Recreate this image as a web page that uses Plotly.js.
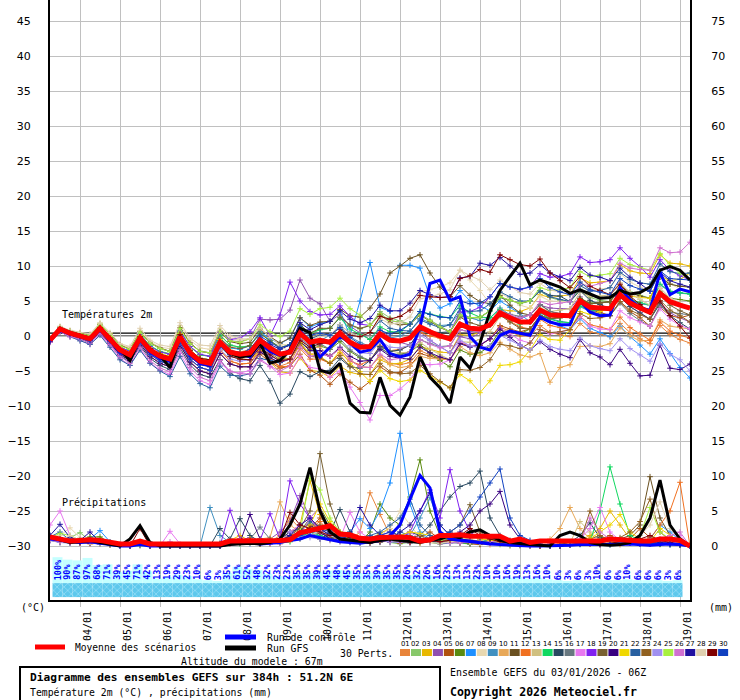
<!DOCTYPE html>
<html><head><meta charset="utf-8">
<script src="https://cdn.plot.ly/plotly-3.0.1.min.js"></script>
<style>html,body{margin:0;padding:0;background:#fff}#chart{width:740px;height:700px}</style>
</head><body><div id="chart"></div>
<script>
// ---------- DATA ----------
const hours = [0,6,12,18,24,30,36,42,48,54,60,66,72,78,84,90,96,102,108,114,120,126,132,138,144,150,156,162,168,174,180,186,192,198,204,210,216,222,228,234,240,246,252,258,264,270,276,282,288,294,300,306,312,318,324,330,336,342,348,354,360,366,372,378,384];
const dayTicks = [18,42,66,90,114,138,162,186,210,234,258,282,306,330,354,378];
const dayLabels = ['04/01','05/01','06/01','07/01','08/01','09/01','10/01','11/01','12/01','13/01','14/01','15/01','16/01','17/01','18/01','19/01'];
const tempTicks = [-30,-25,-20,-15,-10,-5,0,5,10,15,20,25,30,35,40,45];
const precipTicks = [0,5,10,15,20,25,30,35,40,45,50,55,60,65,70,75];
const memberLabels = ['01','02','03','04','05','06','07','08','09','10','11','12','13','14','15','16','17','18','19','20','21','22','23','24','25','26','27','28','29','30'];
const memberColors = ['#e8843a','#88c86a','#e8b800','#9050b0','#b0520f','#5a8a10','#1e90ff','#e8d8b0','#4090c0','#e8a858','#6a5020','#f07020','#d0c080','#10d860','#284860','#687880','#e878f0','#8020f0','#786030','#380080','#f0d800','#2860a0','#906020','#a090f0','#a8f040','#d070d0','#2010a0','#e0d0b0','#800000','#1040c0'];

// probability of precipitation per 6h step (%)
const precipProb = [100,90,87,97,68,71,39,45,71,42,13,19,29,23,10,6,3,35,61,52,48,32,23,23,35,35,39,45,48,45,35,35,39,35,35,26,32,26,16,23,13,13,23,10,10,16,19,13,16,10,6,3,6,3,10,6,6,10,6,6,6,3,6];

// Temperature 2m (°C)
const tMean = [-0.6,1.0,0.4,0.0,-0.4,1.1,-0.4,-2.0,-2.7,-0.3,-2.0,-2.9,-3.3,-0.1,-2.4,-3.6,-3.9,-0.9,-2.3,-2.6,-2.4,-0.6,-1.7,-2.6,-2.3,0.4,-0.9,-0.6,-0.9,0.4,-0.9,-1.6,-1.5,0.3,-0.6,-0.7,-0.3,1.3,0.6,0.0,-0.4,1.7,1.1,1.0,1.6,3.3,2.6,2.0,2.0,3.7,3.0,2.9,2.9,5.0,4.1,4.0,3.9,5.9,4.7,4.0,3.4,6.1,4.9,4.4,4.0];
const tControl = [-0.7,0.8,0.3,-0.1,-0.5,0.9,-0.6,-2.3,-3.0,-0.5,-2.3,-3.2,-3.6,-0.3,-2.7,-3.9,-4.2,-1.0,-2.2,-2.5,-3.0,-1.0,-2.2,-2.8,-2.0,0.8,-1.0,-3.0,-1.6,0.0,-1.0,-2.3,-2.0,-0.5,-2.5,-3.0,-2.6,1.3,7.5,8.0,5.1,5.6,-0.1,-1.6,-2.0,0.1,0.7,0.4,0.1,2.7,2.0,1.6,1.6,5.0,3.4,2.9,3.0,6.9,5.2,4.0,3.7,9.1,5.9,6.7,6.3];
const tGFS = [-0.5,1.1,0.5,0.1,-0.3,1.2,-0.3,-1.9,-3.5,-0.2,-1.9,-2.8,-4.5,0.0,-2.3,-3.5,-3.8,-0.8,-2.5,-3.0,-2.8,-1.0,-3.9,-3.5,-2.0,1.1,0.5,-4.9,-5.3,-3.9,-9.6,-10.9,-11.0,-5.9,-9.9,-11.3,-8.7,-3.0,-5.9,-7.4,-9.6,-3.0,-4.6,-1.0,3.5,6.5,8.5,10.4,7.3,8.0,7.5,7.0,6.1,6.6,6.0,5.4,5.5,6.5,6.0,6.2,7.0,9.4,9.9,9.4,8.0];
const t01 = [-0.8,0.8,0.1,-0.3,-0.7,0.7,-0.8,-2.5,-3.2,-0.9,-2.6,-3.6,-4.1,-1.0,-3.3,-4.5,-4.9,-2.0,-3.6,-4.0,-3.9,-1.8,-3.4,-4.3,-3.8,-1.2,-2.6,-2.5,-2.9,-1.8,-3.4,-4.4,-4.5,-2.8,-3.9,-4.1,-3.8,-2.1,-2.7,-3.1,-3.4,-1.0,-1.4,-1.3,-0.4,1.3,0.6,0.0,0.0,1.5,0.5,0.2,-0.1,1.8,0.6,0.3,-0.1,1.8,0.5,-0.4,-1.1,1.5,0.2,-0.5,-1.0];
const t02 = [-0.5,1.1,0.6,0.2,-0.1,1.5,0.0,-1.6,-2.2,0.3,-1.4,-2.2,-2.5,0.8,-1.5,-2.7,-2.9,0.2,-1.3,-1.6,-1.4,0.6,-0.7,-1.8,-1.3,1.6,0.3,0.9,1.1,2.6,1.5,1.0,1.5,3.5,2.6,2.2,1.7,3.1,2.3,1.5,0.6,2.9,2.5,2.6,3.6,5.6,5.1,4.6,5.0,6.4,5.5,5.1,4.9,6.7,5.5,5.1,4.9,7.2,6.3,5.8,5.4,8.4,7.4,7.1,7.0];
const t03 = [-0.6,1.1,0.5,0.1,-0.2,1.4,-0.1,-1.8,-2.4,0.0,-1.7,-2.6,-2.9,0.4,-2.0,-3.2,-3.4,-0.8,-2.6,-3.3,-3.4,-2.1,-3.7,-5.1,-5.3,-3.1,-4.9,-5.1,-5.9,-4.3,-5.2,-5.5,-5.5,-3.4,-4.0,-3.9,-3.3,-1.5,-1.9,-2.3,-2.4,0.2,0.1,0.5,1.6,3.8,3.6,3.5,4.0,5.9,5.5,5.7,5.9,8.3,7.6,7.7,7.9,10.2,9.3,9.0,8.9,11.6,10.4,10.3,10.0];
const t04 = [-0.4,1.3,0.7,0.3,0.1,1.7,0.3,-1.3,-1.9,0.6,-1.0,-1.8,-2.2,1.1,-1.0,-2.2,-2.4,0.7,-0.7,-0.8,-0.4,2.4,2.3,2.4,3.7,8.0,5.4,4.6,2.1,3.1,1.4,0.4,-0.5,1.0,-0.2,-0.9,-1.3,0.6,-0.6,-1.5,-2.4,-0.1,-0.4,0.5,1.6,3.6,2.8,2.5,3.0,4.4,4.0,3.9,3.9,5.6,4.3,4.0,3.9,5.6,4.2,3.3,2.4,4.8,3.3,2.6,2.0];
const t05 = [-0.8,0.8,0.1,-0.3,-0.9,0.5,-1.0,-2.6,-3.5,-1.1,-2.9,-3.9,-4.4,-1.3,-3.7,-5.0,-5.4,-2.5,-4.0,-4.4,-4.4,-2.6,-3.7,-4.6,-4.3,-2.6,-4.9,-5.6,-6.9,-5.4,-6.6,-7.6,-6.5,-4.4,-5.3,-5.2,-4.3,-2.5,-2.9,-3.3,-3.4,-1.0,-1.4,-1.3,-0.4,1.5,1.0,0.6,1.0,2.9,2.4,2.6,2.9,4.8,3.7,3.4,2.9,4.9,3.5,2.6,1.4,4.1,2.9,2.6,3.0];
const t06 = [-0.5,1.0,0.3,0.1,-0.3,1.3,-0.3,-2.1,-2.7,-0.2,-2.1,-2.8,-3.4,0.1,-2.4,-3.7,-3.8,-0.8,-2.5,-2.7,-2.4,-0.9,-2.1,-3.2,-3.3,-0.8,-1.9,-1.4,-1.9,-0.8,-2.2,-3.1,-3.5,-1.7,-2.6,-2.6,-2.3,-1.2,-2.4,-3.5,-4.4,-2.0,-2.6,-2.4,-1.4,0.8,0.6,0.3,1.0,2.9,2.5,2.7,2.9,5.4,4.7,4.8,4.9,6.6,5.4,4.4,3.4,6.4,5.4,5.2,5.0];
const t07 = [-0.5,1.1,0.5,0.1,-0.3,1.2,-0.3,-1.9,-2.5,-0.1,-1.8,-2.6,-3.0,0.2,-2.0,-3.2,-3.4,-0.3,-1.7,-1.9,-1.4,0.6,-0.4,-1.1,-0.3,2.6,1.3,1.8,2.1,3.6,0.0,5.0,10.5,4.1,3.5,10.1,10.1,9.7,5.6,4.0,4.6,6.5,5.0,4.3,3.6,5.0,4.1,3.2,2.0,3.2,2.0,1.4,0.9,2.5,1.1,0.5,-0.1,1.4,-0.1,-1.3,-2.6,-0.4,-2.5,-4.5,-6.0];
const t08 = [-0.3,1.3,0.8,0.5,0.2,1.8,0.4,-1.2,-1.7,0.8,-0.8,-1.6,-1.8,1.5,-0.6,-1.7,-1.9,1.1,-0.3,-0.6,-0.4,1.2,-0.1,-1.2,-1.3,1.4,0.1,0.4,0.1,1.6,0.4,0.1,0.5,2.8,2.4,2.8,3.7,6.3,6.6,7.0,7.6,9.4,8.0,6.5,4.6,6.2,5.3,4.4,4.0,5.7,5.0,4.9,4.9,7.3,6.5,6.7,6.9,8.9,7.7,7.0,6.4,8.9,7.5,6.7,6.0];
const t09 = [-0.6,0.9,0.3,-0.1,-0.6,0.8,-0.7,-2.3,-3.0,-0.5,-2.3,-3.3,-3.7,-0.6,-2.8,-4.0,-4.4,-1.5,-2.9,-3.3,-3.4,-1.6,-2.7,-3.6,-3.3,-0.3,-1.4,-0.6,0.1,1.4,-0.1,-0.9,-1.5,0.5,-0.3,0.0,0.7,2.5,1.9,1.5,1.6,3.4,2.6,2.2,2.6,4.0,3.0,2.2,2.0,3.4,2.5,2.1,1.9,4.2,3.5,3.7,3.9,6.1,5.1,4.6,4.4,7.3,6.3,6.1,6.0];
const t10 = [-0.6,1.0,0.4,0.0,-0.4,1.1,-0.4,-2.0,-2.7,-0.3,-2.0,-2.9,-3.3,-0.1,-2.4,-3.6,-3.9,-0.8,-2.1,-2.3,-1.9,-0.2,-1.6,-2.9,-3.3,-0.2,-1.7,-1.6,-2.9,-1.8,-3.4,-4.4,-4.5,-2.9,-4.1,-4.5,-4.3,-2.9,-3.2,-3.3,-3.4,-1.5,-2.4,-2.8,-2.4,-0.9,-1.9,-2.7,-3.0,-2.5,-6.6,-4.5,-4.1,-1.5,-1.4,-1.5,-1.1,1.2,0.0,-0.7,-0.6,2.3,1.4,1.2,1.0];
const t11 = [-0.4,1.2,0.7,0.4,0.1,1.6,0.3,-1.3,-1.9,0.6,-1.0,-1.7,-2.2,1.2,-1.0,-2.2,-2.4,0.6,-0.8,-1.1,-0.9,1.0,-0.1,-1.0,-0.3,2.6,1.5,2.0,2.1,3.8,2.9,2.7,4.0,6.0,9.0,10.0,11.1,11.6,9.0,7.0,5.6,7.2,5.8,4.9,4.6,5.8,4.4,3.3,3.0,4.5,3.5,3.2,2.9,5.3,4.6,4.7,4.9,7.2,6.2,5.7,5.4,8.4,7.4,7.1,7.0];
const t12 = [-0.7,0.9,0.3,-0.1,-0.7,0.8,-0.8,-2.4,-3.2,-0.9,-2.6,-3.6,-4.1,-1.0,-3.3,-4.5,-4.9,-2.0,-3.6,-4.0,-3.9,-2.2,-3.4,-4.4,-4.3,-1.8,-3.3,-3.3,-3.9,-2.4,-3.6,-4.1,-3.5,-1.4,-2.1,-1.9,-1.3,0.5,0.0,-0.3,-0.4,1.7,1.1,1.0,1.6,3.1,2.1,1.3,1.0,2.4,1.5,1.2,0.9,2.8,1.6,1.3,0.9,2.7,1.2,0.3,-0.6,2.0,0.7,0.1,-0.3];
const t13 = [-0.6,1.0,0.5,0.1,-0.3,1.2,-0.2,-1.8,-2.5,0.0,-1.7,-2.6,-3.0,0.3,-2.0,-3.2,-3.4,-0.8,-2.6,-3.2,-3.4,-1.4,-2.2,-2.9,-2.3,0.6,-0.4,0.2,0.1,1.2,-0.4,-1.6,-2.5,-0.9,-2.1,-2.4,-2.3,-0.9,-1.9,-2.7,-3.4,-0.8,-0.9,-0.5,0.6,2.8,2.3,1.9,2.0,4.0,3.5,3.7,3.9,6.3,5.6,5.7,5.9,7.6,6.2,5.2,4.4,6.8,5.4,4.6,4.0];
const t14 = [-0.5,1.1,0.6,0.2,-0.1,1.5,0.0,-1.6,-2.2,0.3,-1.4,-2.2,-2.6,0.7,-1.5,-2.7,-2.9,0.1,-1.3,-1.6,-1.4,0.4,-0.7,-1.6,-1.3,1.6,0.4,0.9,1.1,2.6,1.0,0.2,-0.5,1.3,0.6,0.6,1.7,3.5,3.1,2.8,2.6,4.4,3.3,2.7,2.6,3.8,2.6,1.7,2.0,3.4,2.4,2.0,1.9,4.3,3.6,3.7,3.9,6.2,5.2,4.8,4.4,7.4,6.4,6.2,6.0];
const t15 = [-0.9,0.7,0.0,-0.4,-1.0,0.4,-1.2,-2.9,-3.7,-1.4,-3.2,-4.2,-4.8,-1.7,-4.1,-5.5,-5.9,-3.4,-5.3,-6.1,-6.4,-4.2,-6.4,-9.6,-8.3,-5.1,-5.8,-5.1,-4.9,-3.2,-4.4,-4.6,-3.5,-1.5,-2.2,-2.0,-1.3,0.8,0.6,0.5,0.6,3.0,2.6,2.7,3.6,5.5,5.1,4.7,5.0,6.5,5.8,5.7,4.9,6.5,5.1,4.5,3.9,5.6,4.2,3.3,2.4,4.6,2.9,1.9,1.0];
const t16 = [-0.6,1.0,0.4,0.0,-0.4,1.1,-0.4,-2.0,-2.7,-0.3,-2.0,-2.9,-3.3,-0.1,-2.4,-3.6,-3.9,-0.9,-2.3,-2.6,-2.4,-0.6,-1.7,-2.6,-2.3,0.4,-1.1,-1.1,-1.9,-0.4,-2.0,-2.9,-3.5,-1.7,-2.6,-2.7,-2.3,-0.5,-1.1,-1.5,-1.4,0.9,0.6,0.8,1.6,3.6,3.1,2.8,3.0,4.5,3.5,3.2,2.9,4.8,3.6,3.2,2.9,4.7,3.2,2.2,1.4,4.3,3.4,3.2,3.0];
const t17 = [-0.9,0.6,-0.1,-0.6,-1.2,0.2,-1.4,-3.2,-4.2,-1.9,-3.8,-4.9,-5.5,-2.5,-5.0,-6.4,-6.9,-3.8,-5.1,-5.3,-4.9,-3.2,-4.4,-5.5,-5.3,-2.9,-4.5,-4.7,-5.9,-5.0,-7.3,-9.5,-12.0,-8.5,-8.5,-7.6,-6.3,-4.0,-4.1,-4.0,-3.4,-0.8,-1.4,-1.2,-0.4,1.1,0.3,-0.6,-1.0,0.9,0.3,0.6,0.9,2.8,1.4,1.0,0.9,3.6,2.6,2.0,1.4,3.9,2.4,1.5,1.0];
const t18 = [-0.4,1.2,0.6,0.2,-0.1,1.4,-0.1,-1.6,-2.2,0.2,-1.5,-2.3,-2.6,0.7,-1.5,-2.6,-2.9,0.6,-0.5,-0.3,0.6,2.6,0.0,3.0,7.7,5.0,3.5,3.0,3.1,4.3,2.8,1.7,1.5,3.2,2.2,2.0,1.7,3.1,2.2,1.3,0.6,3.4,3.5,4.1,5.6,7.5,7.0,6.6,7.0,8.9,8.4,8.5,8.9,11.3,10.5,10.6,10.9,12.6,11.1,9.9,8.4,10.9,9.4,8.6,8.0];
const t19 = [-0.5,1.1,0.5,0.1,-0.3,1.2,-0.3,-1.8,-2.5,-0.1,-1.8,-2.6,-3.0,0.3,-2.0,-3.2,-3.4,-0.3,-1.6,-1.8,-1.4,0.4,-0.7,-1.6,-1.3,1.6,0.4,1.1,1.1,2.7,1.6,1.1,1.5,3.1,1.9,1.6,1.7,3.0,2.1,1.2,0.6,2.7,1.9,1.5,1.6,3.0,2.0,1.1,1.0,2.9,2.5,2.6,2.9,5.3,4.6,4.7,4.9,6.7,5.2,4.3,3.4,5.8,4.4,3.6,3.0];
const t20 = [-0.8,0.8,0.1,-0.3,-0.9,0.5,-1.0,-2.7,-3.5,-1.2,-2.9,-3.9,-4.4,-1.3,-3.7,-5.0,-5.4,-2.5,-4.0,-4.4,-4.4,-2.3,-3.1,-3.8,-3.3,-0.8,-2.1,-2.1,-2.9,-1.6,-2.9,-3.6,-3.5,-1.9,-2.9,-3.2,-3.3,-1.6,-2.4,-3.0,-3.4,-1.1,-1.6,-1.3,-0.4,1.0,-0.2,-1.3,-2.0,-0.8,-1.9,-2.6,-3.1,-0.5,-2.4,-3.0,-4.1,-1.9,-3.9,-5.7,-5.6,-1.3,-4.6,-4.8,-4.0];
const t21 = [-0.5,1.1,0.6,0.2,-0.2,1.3,-0.1,-1.7,-2.4,0.0,-1.7,-2.5,-2.9,0.3,-2.0,-3.2,-3.4,-0.5,-2.0,-2.5,-2.4,-0.8,-2.1,-3.2,-3.3,-0.9,-2.6,-2.9,-3.9,-2.1,-3.9,-5.1,-6.5,-4.9,-6.1,-6.5,-6.3,-4.9,-5.8,-6.6,-7.4,-5.5,-6.4,-8.1,-6.4,-4.2,-4.1,-3.7,-2.0,0.2,-0.5,-0.6,0.9,3.5,3.1,3.5,3.9,6.4,5.7,5.5,5.4,8.6,7.9,8.1,9.0];
const t22 = [-0.8,0.6,-0.1,-0.7,-1.2,0.1,-1.6,-3.4,-4.2,-2.0,-3.9,-5.0,-5.8,-2.9,-5.4,-6.8,-7.4,-4.3,-5.6,-5.7,-5.4,-3.2,-3.5,-3.8,-2.3,0.7,-0.4,0.1,0.1,1.6,0.4,-0.1,0.5,2.2,1.1,0.8,0.7,2.3,1.7,1.2,1.6,3.9,3.5,3.6,4.6,6.3,5.6,5.0,5.0,6.5,5.6,5.2,4.9,7.2,6.4,6.5,6.9,9.1,8.1,7.6,7.4,10.3,9.2,8.9,9.0];
const t23 = [-0.6,1.0,0.4,0.0,-0.4,1.1,-0.4,-2.0,-2.7,-0.3,-2.0,-2.9,-3.3,-0.1,-2.4,-3.6,-3.9,-1.0,-2.5,-2.9,-2.9,-1.2,-2.4,-3.4,-3.3,-1.1,-2.9,-3.1,-3.9,-2.8,-4.3,-5.4,-5.5,-3.9,-5.1,-5.4,-5.3,-4.2,-5.4,-6.5,-7.4,-4.8,-4.9,-4.5,-3.4,-1.2,-1.4,-1.8,-1.0,0.9,0.5,0.6,0.9,3.2,2.5,2.6,2.9,4.9,3.7,3.0,2.4,5.1,3.7,2.9,2.0];
const t24 = [-0.7,0.9,0.3,-0.2,-0.7,0.8,-0.8,-2.4,-3.2,-0.9,-2.6,-3.6,-4.1,-1.0,-3.3,-4.5,-4.9,-1.9,-3.3,-3.6,-3.4,-1.6,-2.7,-3.6,-3.3,-0.4,-1.6,-1.1,-0.9,0.2,-1.4,-2.4,-2.5,-0.7,-1.6,-1.7,-1.3,0.1,-0.7,-1.5,-2.4,-0.6,-1.4,-1.7,-1.4,0.1,-0.6,-1.3,-2.0,-0.6,-1.5,-1.9,-2.1,-0.3,-1.4,-1.8,-2.1,-0.4,-1.8,-2.7,-3.6,-1.1,-2.6,-3.4,-5.0];
const t25 = [-0.4,1.3,0.7,0.3,0.1,1.7,0.3,-1.4,-1.9,0.6,-1.0,-1.8,-2.2,1.1,-1.1,-2.2,-2.4,0.7,-0.7,-0.9,-0.4,1.6,0.6,-0.1,0.7,3.9,3.1,3.9,4.1,5.4,3.9,3.0,1.5,3.2,2.2,2.0,1.7,3.1,2.2,1.3,0.6,3.0,2.6,2.7,3.6,5.6,5.1,4.7,5.0,6.9,6.5,6.6,6.9,9.2,8.5,8.7,8.9,11.1,10.2,9.8,9.4,11.8,10.1,9.0,8.0];
const t26 = [-0.9,0.6,-0.1,-0.4,-1.0,0.4,-1.2,-2.9,-3.9,-1.6,-3.5,-4.6,-5.1,-2.0,-4.5,-5.9,-6.4,-3.5,-5.0,-5.4,-5.4,-3.5,-4.3,-5.0,-4.3,-1.6,-2.9,-2.6,-2.9,-1.8,-3.4,-4.4,-4.5,-2.6,-3.4,-3.2,-2.3,-0.5,-1.2,-1.7,-1.4,0.9,0.5,0.7,1.6,3.5,3.0,2.6,3.0,4.9,4.5,4.7,4.9,7.5,7.1,7.5,7.9,10.4,9.7,9.5,9.4,12.6,11.9,12.0,13.4];
const t27 = [-0.7,0.9,0.3,-0.1,-0.6,0.9,-0.6,-2.3,-3.0,-0.6,-2.3,-3.3,-3.7,-0.5,-2.9,-4.1,-4.4,-1.3,-2.6,-2.8,-2.4,-0.3,-1.2,-1.9,-1.3,1.9,0.9,1.6,2.1,3.6,2.4,1.9,2.5,4.4,3.6,3.6,4.7,6.5,5.9,5.5,5.6,8.3,8.5,10.4,10.1,11.2,10.0,8.8,9.0,10.2,9.0,8.4,7.9,9.8,8.7,8.4,7.9,9.7,8.4,7.5,6.4,9.1,7.9,7.4,7.0];
const t28 = [-0.3,1.4,0.8,0.5,0.3,1.9,0.5,-1.1,-1.5,1.1,-0.6,-1.3,-1.5,1.9,-0.3,-1.3,-1.4,1.5,0.0,-0.4,-0.4,1.1,-0.2,-1.4,-2.3,0.6,-0.6,-0.1,0.1,1.6,0.4,-0.1,0.5,2.5,1.7,1.9,2.7,5.3,5.6,6.0,6.6,9.4,8.6,8.0,6.6,8.0,7.1,6.2,6.0,7.5,6.6,6.3,5.9,7.8,6.7,6.4,5.9,7.6,6.2,5.3,4.4,6.9,5.5,4.7,4.0];
const t29 = [-0.6,1.0,0.4,0.0,-0.3,1.2,-0.3,-1.9,-2.5,-0.1,-1.8,-2.6,-3.0,0.2,-2.1,-3.2,-3.4,-1.3,-2.9,-3.3,-3.4,-1.6,-2.7,-3.6,-3.3,-0.6,-1.6,-1.1,-0.9,0.9,0.1,-0.1,0.5,2.8,2.4,2.8,3.7,5.8,5.6,5.5,5.6,8.2,8.6,9.5,9.1,11.6,10.9,10.2,10.0,11.0,9.0,7.9,6.9,8.5,7.1,6.5,5.9,7.4,5.7,4.5,3.4,5.0,2.9,1.4,-0.3];
const t30 = [-0.7,0.9,0.3,-0.1,-0.7,0.8,-0.8,-2.4,-3.2,-0.9,-2.6,-3.6,-4.1,-1.0,-3.3,-4.5,-4.9,-1.5,-2.6,-2.5,-1.9,0.0,-0.9,-1.7,-1.3,1.4,0.1,0.4,0.1,1.2,-0.2,-1.2,-1.5,0.8,0.3,0.8,1.7,3.5,3.1,2.7,2.6,5.0,4.6,4.7,5.6,7.5,7.0,6.7,7.0,8.2,6.9,6.3,5.9,7.7,6.6,6.3,5.9,8.2,7.2,6.7,6.4,9.3,8.2,8.1,8.0];

// Precipitation (mm)
const pMean = [1.3,1.0,0.7,0.8,0.9,0.8,0.6,0.3,0.3,0.7,0.3,0.3,0.3,0.3,0.3,0.3,0.3,0.3,0.7,0.7,0.8,0.7,0.7,0.8,0.9,1.9,2.2,2.6,2.9,1.7,1.6,1.1,1.0,1.2,1.3,1.3,1.2,0.7,0.9,1.5,1.5,1.6,1.4,1.4,1.3,1.4,0.7,1.0,0.5,0.7,0.7,0.7,0.7,0.7,0.7,0.7,1.0,0.9,0.7,0.7,0.7,1.0,1.0,0.8,0.0];
const pControl = [1.0,0.8,0.6,0.5,0.6,0.4,0.2,0,0,0.2,0,0,0,0,0,0,0,0,0.3,0.4,0.5,0.3,0.4,0.5,0.8,1.0,1.5,1.2,0.8,0.6,0.5,0.4,0.6,0.8,1.5,3.0,6.7,10.1,8.3,2.0,1.0,0.8,0.6,0.4,0.3,0.2,0.1,0.1,0,0,0,0,0.1,0.2,0.2,0.1,0.1,0.2,0.3,0.2,0.1,0.2,0.3,0.2,0];
const pGFS = [1.3,0.9,0.5,0.6,0.8,0.5,0.3,0,1.0,2.9,0.5,0,0,0,0,0,0,0,0.2,0.3,0.4,0.3,0.5,1.0,3.0,6.0,11.2,5.0,2.0,1.0,0.8,0.6,0.5,0.8,1.0,0.8,0.6,0.5,0.8,1.0,1.5,1.2,2.0,2.3,1.5,0.8,0.5,0.3,0.2,0.1,0,1.5,2.0,1.5,0.5,0.2,0.1,0.2,0.5,1.5,4.0,9.4,3.0,1.0,0];
const p01 = [1.2,0.8,0.6,1.0,0.5,0.4,0.2,0,0,0.3,0,0,0,0,0,0,0,0,0.5,1.0,0.8,0.3,0.6,1.5,4.0,2.5,3.0,1.8,2.5,1.2,0.8,2.0,7.6,4.5,1.5,0.8,1.0,0.5,0.6,1.5,1.2,0.8,0.5,0.3,0.6,0.4,0.2,0.3,0,0,0.2,0.3,0.4,0.6,0.5,0.3,0.2,0.5,0.8,0.6,0.4,0.3,0.5,0.6,0];
const p02 = [0.8,0.5,1.2,1.9,0.8,0.3,0.2,0,0,0,0,0,0,0,0,0,0,0.2,0.5,0.3,0.6,0.4,0.8,0.5,1.0,2.0,3.5,2.0,1.5,1.0,0.6,0.4,0.8,1.5,0.5,0.3,0.6,0.8,0.5,0.3,0.6,1.0,0.8,0.5,0.3,0.2,0,0,0,0,0,0,0.3,0.5,0.4,0.3,0.2,0.6,0.8,0.5,0.3,0.6,0.8,0.4,0];
const p03 = [1.0,0.7,0.5,0.8,1.2,0.6,0.3,0,0,0.2,0,0,0,0,0,0,0,0,0.8,1.5,0.7,0.5,0.3,0.6,1.2,3.0,9.3,4.5,2.0,1.5,0.8,0.5,1.0,1.8,2.5,1.2,0.8,0.5,0.6,0.4,0.5,0.8,0.4,0.3,1.0,0.6,0.3,0.2,0,0,0,0.2,0.5,0.8,1.5,2.5,5.0,3.0,1.0,0.5,0.3,0.2,0.5,0.3,0];
const p04 = [1.5,1.0,0.5,1.0,0.8,0.3,0.2,0.1,0,0.5,0,0,0,0,0,0,0,0,0.6,0.8,1.2,0.5,1.0,2.0,3.5,7.2,4.0,2.5,1.5,0.8,0.5,0.7,1.2,0.8,0.5,0.6,1.0,1.5,0.6,0.3,0.4,0.6,0.3,0.5,0.8,1.0,0.5,0.2,0,0,0.3,0.2,0.2,0.3,0.5,0.4,0.3,0.2,0.4,0.6,0.8,0.5,0.4,0.3,0];
const p05 = [1.2,0.8,1.0,0.6,0.8,1.0,0.4,0,0,0.3,0,0,0,0,0,0,0,0.3,0.5,1.0,0.5,0.3,0.5,1.0,2.0,3.0,2.5,4.0,3.0,1.5,0.8,0.6,0.5,1.0,0.6,0.4,0.8,1.2,2.0,1.0,0.6,0.4,0.3,0.2,0.5,0.6,0.4,0.3,0.2,0,0,0,0.3,0.6,0.8,1.0,1.5,0.8,1.0,2.5,1.2,0.6,0.3,0.2,0];
const p06 = [1.0,1.2,0.8,0.6,1.3,1.3,0.5,0,0,0.4,0,0,0,0,0,0,0,0,0.3,0.5,0.6,0.4,0.3,0.8,1.5,2.0,4.0,5.5,3.0,1.0,0.8,0.6,2.0,6.0,4.0,3.0,7.0,12.3,5.0,1.5,1.0,0.8,0.6,0.5,0.4,0.3,0.2,0.3,0.2,0,0,0,0.2,0.4,0.6,0.3,0.5,0.8,0.6,1.0,0.8,0.5,0.3,0.2,0];
const p07 = [0.8,0.6,0.5,0.8,1.0,2.2,0.6,0,0,0.2,0,0,0,0,0,0,0,0,0.5,0.4,0.3,0.5,0.6,0.4,1.0,1.5,2.0,1.2,1.0,1.5,2.0,3.9,2.5,5.0,9.0,16.1,6.0,2.0,1.0,0.5,0.6,1.0,0.8,0.6,0.5,0.4,0.3,0.2,0,0,0,0,0.3,0.2,0.4,0.6,0.8,0.5,0.4,0.6,1.0,3.0,2.0,0.8,0];
const p08 = [1.2,1.5,2.6,1.2,0.6,0.4,0.2,0,0,0.3,0,0,0,0,0,0,0,0,0.3,0.5,0.4,0.6,0.4,0.3,0.8,1.0,1.5,2.0,2.5,1.2,0.6,0.8,1.0,1.5,2.5,5.0,3.0,1.2,0.8,0.6,1.0,1.5,0.8,0.6,0.5,0.3,0.2,0.1,0,0,0,0.2,0.4,0.6,0.3,0.2,0.3,0.5,0.4,0.3,0.6,1.0,0.8,0.5,0];
const p09 = [1.4,0.9,0.7,0.5,0.8,0.6,0.3,0,0,0.2,0,0,0,0,0,0,5.5,1.5,0.5,0.8,0.6,0.3,0.5,0.4,0.8,1.2,2.0,1.8,1.5,1.0,0.6,0.4,0.6,0.8,1.0,2.0,1.5,4.0,6.9,3.0,1.5,1.0,2.0,1.0,0.6,0.5,0.4,0.3,0.2,0,0,0,0.3,0.5,0.4,0.3,0.2,0.4,0.6,0.8,0.5,0.3,0.2,0.1,0];
const p10 = [1.0,0.8,0.6,0.4,0.6,0.8,0.4,0.2,0,0.3,0,0,0,0,0,0,0,0,0.4,0.5,0.8,1.0,1.2,6.3,3.0,2.0,1.5,1.0,0.8,0.6,1.0,0.8,0.5,0.8,1.2,1.0,0.6,0.5,0.8,1.0,0.6,0.5,0.4,0.8,1.2,1.0,0.6,0.4,0.3,0.5,1.0,2.5,5.5,2.5,1.0,0.6,0.4,0.3,0.5,0.8,0.6,0.4,0.3,0.2,0];
const p11 = [1.1,0.7,0.5,0.8,1.0,0.8,0.5,0,0,0.6,0,0,0,0,0,0,0,0.3,0.6,0.4,0.5,0.3,0.8,0.6,1.0,1.5,2.5,1.8,1.2,0.8,1.0,0.6,0.8,1.5,1.0,0.8,0.6,0.5,1.0,1.5,0.8,0.6,0.4,0.3,0.5,0.4,0.3,0.2,0,0,0,0,0.3,0.4,0.6,0.5,0.6,1.0,1.5,3.0,9.9,4.0,1.5,0.6,0];
const p12 = [0.9,0.6,0.8,0.5,0.3,0.4,0.2,0,0,0.2,0,0,0,0,0,0,0,0,0.5,0.8,0.5,0.6,0.4,0.8,1.5,2.0,2.5,3.5,2.0,1.5,1.0,0.8,1.2,1.0,1.5,0.8,0.6,1.0,0.8,0.5,0.6,0.5,0.4,0.3,0.2,0.3,0.2,0.1,0,0,0,0,0.2,0.3,0.4,0.5,0.4,0.3,0.6,0.8,1.0,3.0,5.0,9.1,0];
const p13 = [1.3,0.9,0.6,0.7,0.5,0.3,0.2,0,0,0.2,0,0,0,0,0,0,0,0,0.3,0.6,0.8,0.5,0.4,0.6,1.0,1.5,2.0,3.0,2.5,1.5,1.0,0.8,0.6,0.5,0.8,1.2,1.0,0.6,0.5,0.4,0.8,1.2,1.0,0.6,0.4,0.3,0.2,0.3,0,0,0,0.2,0.4,3.5,2.0,0.8,0.4,0.3,0.5,0.6,0.8,0.6,0.4,0.3,0];
const p14 = [1.0,0.6,0.4,0.6,0.8,0.5,0.3,0,0,0.2,0,0,0,0,0,0,0,0,0.4,0.3,0.5,0.8,0.6,0.4,0.6,1.2,2.0,1.5,1.0,0.8,0.6,0.5,0.8,1.0,0.6,0.5,0.8,1.0,0.6,0.4,0.5,0.4,0.3,0.6,0.8,0.5,0.3,0.2,0,0,0,0,0.2,0.4,0.6,5.0,11.3,6.0,1.5,0.8,0.5,0.3,0.4,0.2,0];
const p15 = [0.9,0.5,0.6,0.4,0.5,0.7,0.3,0,0,0.3,0,0,0,0,0,0,0,2.5,1.0,3.9,1.5,0.6,0.8,1.0,2.0,2.5,1.5,1.0,1.8,5.2,2.0,1.0,0.8,0.6,1.0,1.5,2.0,1.5,3.0,5.0,7.0,8.5,9.0,10.7,4.0,1.5,0.8,0.5,0.3,0,0,0.2,0.5,1.5,3.3,1.2,0.6,0.8,1.0,0.6,0.4,0.3,0.2,0.4,0];
const p16 = [0.8,0.6,0.5,0.5,0.6,0.4,0.2,0,0,0.2,0,0,0,0,0,0,0,0.5,0.8,0.6,1.0,2.7,1.0,0.6,0.8,1.0,1.5,2.0,1.5,1.0,0.8,0.6,0.5,0.8,1.0,0.6,0.4,0.8,1.0,0.6,0.5,0.6,0.4,0.3,0.5,0.6,0.4,0.2,0,0,0,0,0.3,0.5,0.8,0.6,0.4,0.5,0.6,0.4,0.3,0.4,0.6,0.3,0];
const p17 = [3.0,5.0,1.5,0.8,0.6,0.4,0.3,0.2,0,0.2,0,0,2.1,0.3,0,0,0,0,0.3,0.5,0.6,0.4,0.3,0.5,2.0,3.0,4.0,5.5,2.0,1.0,4.8,2.0,1.0,0.8,0.6,1.2,2.0,1.0,0.6,0.8,1.0,0.6,0.5,0.4,0.6,0.8,0.5,0.3,0.2,0,0,0,0.3,1.0,2.5,5.5,2.0,0.8,0.5,0.4,0.6,0.8,1.0,1.5,0];
const p18 = [1.0,0.8,0.6,0.7,0.9,0.6,0.3,0,0,0.3,0,0,0,0,0,0,0,0,5.1,1.0,0.5,0.8,4.6,1.0,9.3,6.0,4.0,2.0,1.5,1.0,0.8,0.6,1.0,1.5,2.0,1.0,2.0,5.0,8.0,4.0,10.9,5.0,2.0,1.0,0.8,0.6,0.4,0.3,0.2,0,0,0,0.2,0.4,0.3,0.2,0.4,0.6,0.5,0.3,0.4,0.6,0.5,0.4,0];
const p19 = [1.1,0.7,0.6,0.8,0.6,0.5,0.3,0,0,0.3,0,0,0,0,0,0,0,0,0.4,0.6,0.5,0.3,0.6,0.8,1.5,2.5,5.0,13.2,6.0,2.0,1.0,0.8,0.6,1.0,0.8,0.6,1.2,1.5,1.0,0.8,2.0,3.0,5.9,2.0,1.0,0.8,0.5,0.4,0.3,0,0,0,0.3,0.5,1.0,1.5,0.6,0.8,1.0,0.8,0.5,0.4,0.3,0.2,0];
const p20 = [0.9,0.6,0.5,0.6,0.4,0.3,0.2,0,0,0.2,0,0,0,0,0,0,0,0,0.3,0.5,4.5,1.0,0.6,0.5,1.0,1.5,3.0,2.0,1.0,0.8,0.6,0.5,0.4,0.6,0.8,1.0,0.8,0.6,0.5,0.8,1.0,2.0,3.0,5.0,6.0,7.8,3.0,1.0,0.5,0,0,0,0.2,0.3,0.4,0.6,0.8,0.5,0.4,0.3,0.5,0.4,0.3,0.2,0];
const p21 = [1.0,0.7,0.8,0.5,0.6,0.4,0.2,0,0,0.2,0,0,0,0,0,0,0,0,0.5,0.8,1.0,0.6,0.5,0.4,0.8,1.5,3.0,6.0,3.5,2.0,1.0,0.8,0.6,0.8,1.0,1.5,2.0,1.8,1.5,1.0,0.8,1.2,1.5,1.0,0.8,0.6,0.4,0.3,0.2,0,0,0,0.3,0.5,1.0,2.0,3.0,4.5,2.0,1.0,0.6,2.5,1.5,0.6,0];
const p22 = [1.3,2.0,0.8,0.6,0.5,0.6,0.3,0,0,0.3,0,0,0,0,0,0,0,0,0.4,0.5,0.8,0.6,0.5,0.6,1.0,2.0,3.5,2.5,1.5,1.0,0.8,1.0,1.5,2.0,3.0,4.0,6.7,3.0,1.5,1.0,0.8,1.0,0.6,0.5,0.4,0.3,0.5,0.4,0.2,0,0,0,0.2,0.4,0.6,0.8,0.5,0.4,0.6,0.8,0.5,0.4,0.3,0.2,0];
const p23 = [1.0,0.8,0.6,0.5,0.7,0.4,0.2,0,0,0.2,0,0,0,0,0,0,0,0,0.3,0.4,0.6,0.5,0.8,0.6,1.2,2.0,2.5,3.0,2.0,1.5,1.0,0.8,0.6,0.8,1.0,0.8,0.6,0.5,0.8,1.0,0.6,0.5,0.4,0.3,0.5,0.4,0.3,0.2,0,0,0,0,0.3,0.6,5.0,1.5,0.8,1.2,2.0,3.5,6.7,2.0,0.8,0.4,0];
const p24 = [0.8,0.5,0.4,0.6,0.5,0.3,0.2,0,0,0.2,0,0,0,0,0,0,0,0,0.4,0.6,0.3,0.5,0.4,0.6,2.0,1.5,1.2,1.0,0.8,0.6,0.5,0.4,0.6,0.8,0.6,0.5,1.0,0.8,0.6,0.5,0.4,0.6,0.8,0.5,0.4,0.3,0.2,0.2,0,0,0,0,0.3,0.5,0.6,0.4,0.3,0.5,0.4,0.6,0.8,0.5,0.6,0.4,0];
const p25 = [1.2,1.8,1.5,0.8,0.6,0.4,0.2,0,0,0.2,0,0,0,0,0,0,0,0,0.5,0.6,0.4,0.8,0.6,0.5,1.0,2.0,9.7,8.0,4.0,2.0,1.0,0.8,0.6,0.8,1.5,1.0,0.8,0.6,1.0,0.8,1.2,0.8,0.6,0.4,0.5,0.3,0.2,0.2,0,0,0,0,0.2,0.4,0.6,0.8,0.6,0.4,0.8,1.5,5.5,2.0,1.0,0.5,0];
const p26 = [0.8,0.6,0.5,0.4,0.6,0.5,0.3,0,0,0.2,0,0,0.6,0,0,0,0,0,0.3,0.4,0.6,0.5,0.4,0.3,1.0,1.5,4.0,2.0,1.5,1.0,0.8,0.6,0.8,1.0,0.8,0.6,0.5,0.8,1.0,0.6,0.5,0.4,0.6,0.5,0.3,0.4,0.3,0.2,0,0,0,0,0.2,0.5,4.0,2.0,1.0,0.6,0.4,0.5,0.8,1.0,1.5,2.0,0];
const p27 = [1.5,3.1,1.2,0.8,2.0,0.6,0.3,0,0,0.3,0,0,0,0,0,0,0,0,0.4,0.5,0.6,0.4,0.5,0.6,1.5,3.0,4.0,2.5,1.5,1.0,1.5,5.5,3.0,1.5,1.0,2.0,3.0,5.0,7.6,3.0,1.5,1.0,0.8,0.6,0.5,0.4,0.3,0.2,0,0,0,0,0.3,0.4,0.5,0.3,0.4,0.5,0.6,0.4,0.3,0.5,0.4,0.3,0];
const p28 = [1.0,0.8,1.5,0.8,0.5,0.3,0.2,0,0,0.2,0,0,0,0,0,0,0,0,0.3,0.5,0.4,0.6,0.5,0.4,0.8,1.2,1.5,2.0,1.5,1.0,0.8,0.6,0.5,0.8,1.5,1.0,0.8,0.6,0.5,0.4,0.6,0.8,0.5,0.4,0.3,0.5,0.3,0.2,0,0,0,0,0.3,0.5,0.6,0.4,0.5,0.6,0.8,1.5,3.0,6.3,2.5,1.0,0];
const p29 = [1.2,0.9,0.6,0.5,0.8,0.6,0.3,0.2,0,2.5,0,0,0,0,0,0,0,0,0.5,0.6,0.8,0.5,0.6,1.0,4.8,3.0,2.5,2.0,1.5,1.8,1.2,0.8,0.6,0.8,1.0,0.8,0.6,1.0,0.8,0.6,0.8,1.5,2.5,1.5,1.0,0.6,0.4,0.3,0.2,0,0,0,0.2,0.4,0.3,0.2,0.4,0.6,0.8,1.0,1.5,0.8,0.5,0.3,0];
const p30 = [1.4,1.0,0.8,0.6,0.7,0.5,0.3,0,0,0.2,0,0,0,0,0,0,0,0,0.4,0.6,0.5,0.4,0.6,0.5,1.0,1.5,2.0,2.5,2.0,1.2,0.8,1.0,1.2,1.5,2.0,1.5,1.0,0.8,1.0,1.5,2.0,3.0,5.0,7.0,9.0,11.0,4.0,1.5,0.8,0.3,0,0,0.2,0.3,0.4,0.3,0.2,0.4,0.5,0.3,0.4,0.3,0.2,0.2,0];

const tempMembers = [t01,t02,t03,t04,t05,t06,t07,t08,t09,t10,t11,t12,t13,t14,t15,t16,t17,t18,t19,t20,t21,t22,t23,t24,t25,t26,t27,t28,t29,t30];
const precipMembers = [p01,p02,p03,p04,p05,p06,p07,p08,p09,p10,p11,p12,p13,p14,p15,p16,p17,p18,p19,p20,p21,p22,p23,p24,p25,p26,p27,p28,p29,p30];

// ---------- FIGURE ----------
const MONO = 'DejaVu Sans Mono';
const X = px => (px - 50) / 640;   // pixel -> paper
const Y = py => (600 - py) / 600;

const probX = precipProb.map((p, k) => hours[k] + 4.5);
const traces = [];

traces.push({type:'bar', x: probX, y: precipProb.map(p => 0.2 + 3.5 * p / 100), base: -35.3, width: 6,
  marker:{color:'#c4ffff', line:{width:0}}, hoverinfo:'skip', yaxis:'y'});
traces.push({type:'bar', x: probX, y: probX.map(() => 2.0), base: -37.3, width: 6,
  marker:{color:'#5ec8ec', line:{width:0}, pattern:{shape:'x', fillmode:'overlay', bgcolor:'#5ec8ec', fgcolor:'#bff0ff', size:5, solidity:0.3}},
  hoverinfo:'skip', yaxis:'y'});

function memberTrace(y, color, axis) {
  return {type:'scatter', mode:'lines+markers', x: hours, y: y, yaxis: axis,
    line:{color: color, width: 1}, marker:{symbol:'cross-thin-open', size:4, line:{color: color, width:1}},
    hoverinfo:'skip'};
}
precipMembers.forEach((p, m) => traces.push(memberTrace(p, memberColors[m], 'y2')));
tempMembers.forEach((t, m) => traces.push(memberTrace(t, memberColors[m], 'y')));

function thick(y, color, w, axis) {
  return {type:'scatter', mode:'lines', x: hours, y: y, yaxis: axis, line:{color: color, width: w}, hoverinfo:'skip'};
}
traces.push(thick(pControl, '#0000ff', 3, 'y2'));
traces.push(thick(pGFS, '#000000', 3, 'y2'));
traces.push(thick(tControl, '#0000ff', 3, 'y'));
traces.push(thick(tGFS, '#000000', 3, 'y'));
traces.push(thick(pMean, '#ff0000', 5, 'y2'));
traces.push(thick(tMean, '#ff0000', 5, 'y'));

const annotations = [];
precipProb.forEach((p, k) => annotations.push({x: probX[k], y: -35.05, xref:'x', yref:'y', text: p + '%',
  textangle: -90, showarrow:false, xanchor:'center', yanchor:'bottom', borderpad:0,
  font:{family: MONO, size: 8.5, color:'#0000ff', weight:'bold'}}));

function txt(px, py, s, size, isBold) {
  annotations.push({xref:'paper', yref:'paper', x: X(px), y: Y(py), text: s, showarrow:false,
    xanchor:'left', yanchor:'middle', borderpad:0, bgcolor:'rgba(255,255,255,0)',
    font:{family: MONO, size: size, color:'black', weight: isBold ? 'bold' : 'normal'}});
}
annotations.push({xref:'x', yref:'y', x: 6, y: 3.1, text:'Températures 2m', showarrow:false, xanchor:'left', yanchor:'middle',
  font:{family: MONO, size: 10, color:'black'}});
annotations.push({xref:'x', yref:'y', x: 6, y: -23.8, text:'Précipitations', showarrow:false, xanchor:'left', yanchor:'middle',
  font:{family: MONO, size: 10, color:'black'}});
txt(20, 607, '(°C)', 10, false);
txt(708, 607, '(mm)', 10, false);
txt(74, 647, 'Moyenne des scénarios', 9.6, false);
txt(266, 637, 'Run de contrôle', 9.8, false);
txt(266, 648, 'Run GFS', 9.8, false);
txt(339, 653, '30 Perts.', 9.8, false);
txt(180, 661, 'Altitude du modele : 67m', 9.8, false);
txt(29, 678, 'Diagramme des ensembles GEFS sur 384h : 51.2N 6E', 11.2, true);
txt(29, 692, 'Température 2m (°C) , précipitations (mm)', 9.8, false);
txt(449, 672, 'Ensemble GEFS du 03/01/2026 - 06Z', 9.9, false);
txt(449, 692, 'Copyright 2026 Meteociel.fr', 11.5, true);

const shapes = [
  {type:'line', xref:'x', yref:'y', x0:0, x1:384, y0:0, y1:0, line:{color:'#000', width:1.2}, layer:'below'},
  {type:'line', xref:'x', yref:'y', x0:0, x1:384, y0:0.42, y1:0.42, line:{color:'#000', width:1.2}, layer:'below'},
  {type:'rect', xref:'paper', yref:'paper', x0:X(35), x1:X(65), y0:Y(649.5), y1:Y(644.5), line:{width:0}, fillcolor:'#ff0000'},
  {type:'rect', xref:'paper', yref:'paper', x0:X(225), x1:X(256), y0:Y(639.5), y1:Y(634.5), line:{width:0}, fillcolor:'#0000ff'},
  {type:'rect', xref:'paper', yref:'paper', x0:X(225), x1:X(256), y0:Y(650.5), y1:Y(645.5), line:{width:0}, fillcolor:'#000000'},
  {type:'rect', xref:'paper', yref:'paper', x0:X(20), x1:X(440), y0:Y(667), y1:Y(702), line:{color:'#000', width:2}, fillcolor:'rgba(0,0,0,0)'}
];
memberColors.forEach((c, m) => {
  const x0 = 400 + m * 10.97;
  shapes.push({type:'rect', xref:'paper', yref:'paper', x0:X(x0), x1:X(x0 + 10), y0:Y(656), y1:Y(649),
    line:{width:0}, fillcolor: c});
  annotations.push({xref:'paper', yref:'paper', x: X(x0 + 5), y: Y(643.5), text: memberLabels[m], showarrow:false,
    xanchor:'center', yanchor:'middle', borderpad:0, font:{family:'DejaVu Sans', size:6.8, color:'black'}});
});

const layout = {
  width: 740, height: 700,
  margin:{l:50, r:50, t:0, b:100, pad:0},
  paper_bgcolor:'#fff', plot_bgcolor:'#fff',
  showlegend:false, barmode:'overlay',
  xaxis:{range:[0,384], tickvals: dayTicks, ticktext: dayLabels, tickangle:-90, ticklabelshift: 8,
    showgrid:true, gridcolor:'#c0c0c0', gridwidth:1, zeroline:false,
    ticks:'outside', ticklen:5, tickcolor:'#c0c0c0',
    showline:true, linecolor:'#000', linewidth:2,
    tickfont:{family: MONO, size:10, color:'#000'}},
  yaxis:{range:[-37.714, 48], tickvals: tempTicks, showgrid:true, gridcolor:'#c0c0c0', gridwidth:1, zeroline:false,
    showline:true, linecolor:'#000', linewidth:2, ticks:'', ticklabelstandoff: 15,
    tickfont:{family:'DejaVu Sans', size:11, color:'#000'}},
  yaxis2:{range:[-7.714, 78], tickvals: precipTicks, overlaying:'y', side:'right', showgrid:false, zeroline:false,
    showline:true, linecolor:'#000', linewidth:2, ticks:'', ticklabelstandoff: 17,
    tickfont:{family:'DejaVu Sans', size:11, color:'#000'}},
  shapes: shapes,
  annotations: annotations
};

Plotly.newPlot('chart', traces, layout, {displayModeBar:false, staticPlot:true});
</script>
</body></html>
